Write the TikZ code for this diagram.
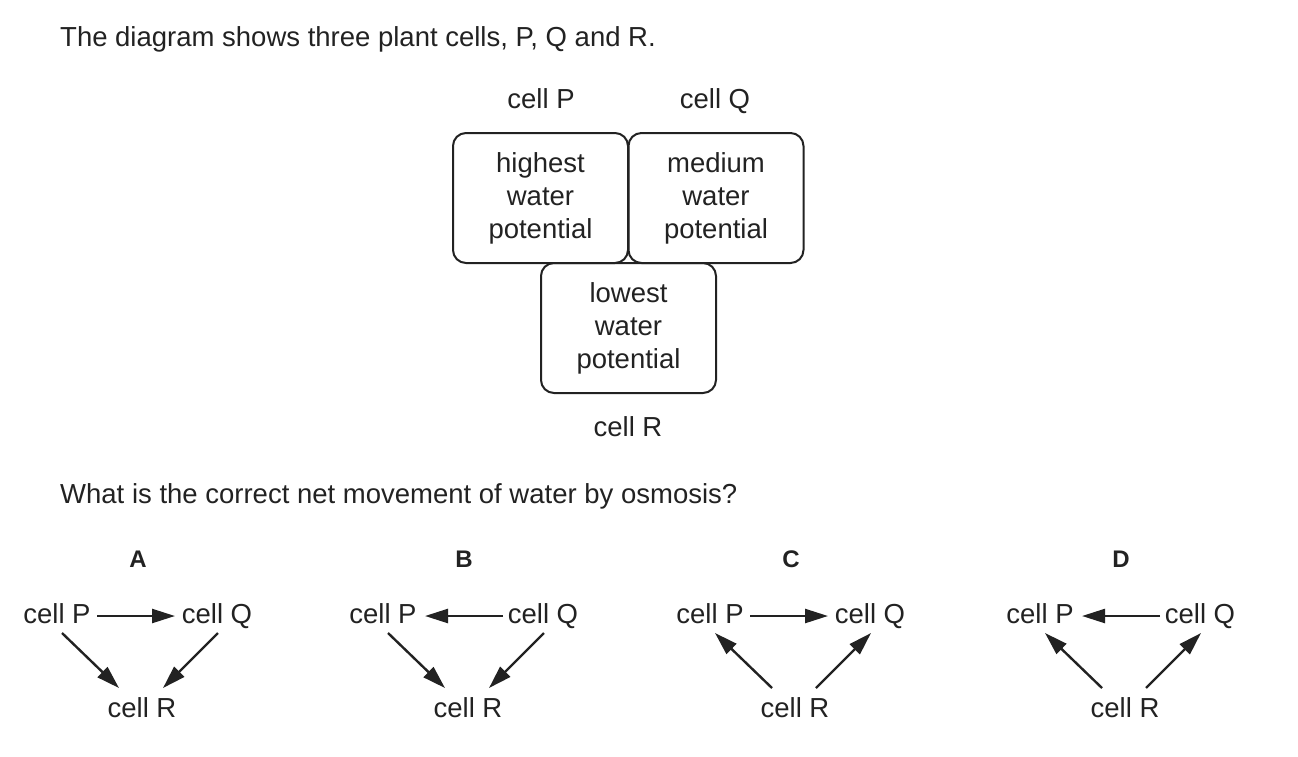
\documentclass[tikz,border=0pt]{standalone}
\usepackage{fontspec}
\setmainfont{Liberation Sans}
\usetikzlibrary{arrows.meta}
\definecolor{ink}{HTML}{222222}
\begin{document}
\begin{tikzpicture}[x=1pt,y=-1pt,
  txt/.style={inner sep=0pt, anchor=base, text=ink, font=\fontsize{27.5}{33}\selectfont},
  cellbox/.style={draw=ink, line width=2pt, rounded corners=13pt, minimum width=175pt, minimum height=130pt, inner sep=0pt, align=center, text=ink, font=\fontsize{27.5}{33}\selectfont},
  letter/.style={inner sep=0pt, anchor=base, text=ink, font=\fontsize{24}{28}\selectfont\bfseries},
  arr/.style={draw=ink, line width=2.4pt, -{Triangle[length=23pt,width=14pt]}}]
\useasboundingbox (0,0) rectangle (1298,756);

\node[txt, anchor=base west] (title) at (60,46) {The diagram shows three plant cells, P, Q and R.};

\node[cellbox] (boxP) at (540.5,198) {highest\\water\\potential};
\node[cellbox] (boxQ) at (716,198) {medium\\water\\potential};
\node[cellbox] (boxR) at (628.5,328) {lowest\\water\\potential};
\node[txt] (lP) at (541,108) {cell P};
\node[txt] (lQ) at (715,108) {cell Q};
\node[txt] (lR) at (628,436) {cell R};

\node[txt, anchor=base west] (question) at (60,503) {What is the correct net movement of water by osmosis?};

% Option A
\begin{scope}[xshift=57pt]
\node[letter] (LA) at (81,567) {A};
\node[txt] (AP) at (0,623) {cell P};
\node[txt] (AQ) at (160,623) {cell Q};
\node[txt] (AR) at (85,717) {cell R};
\draw[arr] ([shift={(40,-7)}]AP.base) -- ([shift={(-42,-7)}]AQ.base);
\draw[arr] ([shift={(5,10)}]AP.base) -- ([shift={(-23,-29)}]AR.base);
\draw[arr] ([shift={(1,10)}]AQ.base) -- ([shift={(21,-29)}]AR.base);
\end{scope}

% Option B
\begin{scope}[xshift=383pt]
\node[letter] (LB) at (81,567) {B};
\node[txt] (BP) at (0,623) {cell P};
\node[txt] (BQ) at (160,623) {cell Q};
\node[txt] (BR) at (85,717) {cell R};
\draw[arr] ([shift={(-40,-7)}]BQ.base) -- ([shift={(42,-7)}]BP.base);
\draw[arr] ([shift={(5,10)}]BP.base) -- ([shift={(-23,-29)}]BR.base);
\draw[arr] ([shift={(1,10)}]BQ.base) -- ([shift={(21,-29)}]BR.base);
\end{scope}

% Option C
\begin{scope}[xshift=710pt]
\node[letter] (LC) at (81,567) {C};
\node[txt] (CP) at (0,623) {cell P};
\node[txt] (CQ) at (160,623) {cell Q};
\node[txt] (CR) at (85,717) {cell R};
\draw[arr] ([shift={(40,-7)}]CP.base) -- ([shift={(-42,-7)}]CQ.base);
\draw[arr] ([shift={(-23,-29)}]CR.base) -- ([shift={(5,10)}]CP.base);
\draw[arr] ([shift={(21,-29)}]CR.base) -- ([shift={(1,10)}]CQ.base);
\end{scope}

% Option D
\begin{scope}[xshift=1040pt]
\node[letter] (LD) at (81,567) {D};
\node[txt] (DP) at (0,623) {cell P};
\node[txt] (DQ) at (160,623) {cell Q};
\node[txt] (DR) at (85,717) {cell R};
\draw[arr] ([shift={(-40,-7)}]DQ.base) -- ([shift={(42,-7)}]DP.base);
\draw[arr] ([shift={(-23,-29)}]DR.base) -- ([shift={(5,10)}]DP.base);
\draw[arr] ([shift={(21,-29)}]DR.base) -- ([shift={(1,10)}]DQ.base);
\end{scope}
\end{tikzpicture}
\end{document}
